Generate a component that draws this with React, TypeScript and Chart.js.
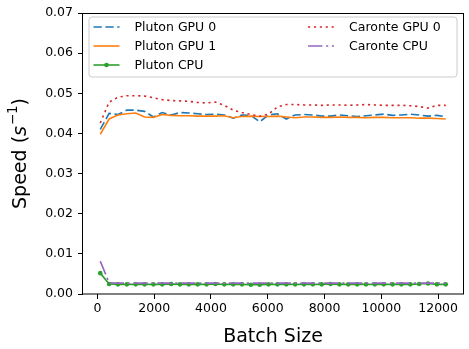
import React, { useEffect, useRef } from "react";
import { Chart, registerables } from "chart.js";

Chart.register(...registerables);

const batchSizes = [100, 412, 724, 1036, 1348, 1660, 1972, 2284, 2596, 2908, 3220, 3532, 3844, 4156, 4468, 4780, 5092, 5404, 5716, 6028, 6340, 6652, 6964, 7276, 7588, 7900, 8212, 8524, 8836, 9148, 9460, 9772, 10084, 10396, 10708, 11020, 11332, 11644, 11956, 12268];

const plutonGpu0 = [0.0410, 0.0450, 0.0447, 0.0458, 0.0458, 0.0455, 0.0441, 0.0452, 0.0446, 0.0452, 0.0451, 0.0449, 0.0447, 0.0448, 0.0446, 0.0438, 0.0446, 0.0445, 0.0429, 0.0446, 0.0449, 0.0436, 0.0446, 0.0447, 0.0446, 0.0443, 0.0443, 0.0446, 0.0444, 0.0442, 0.0444, 0.0446, 0.0448, 0.0445, 0.0446, 0.0448, 0.0446, 0.0443, 0.0445, 0.0442];

const plutonGpu1 = [0.0398, 0.0436, 0.0446, 0.0449, 0.0451, 0.0441, 0.0440, 0.0447, 0.0445, 0.0444, 0.0444, 0.0443, 0.0443, 0.0443, 0.0444, 0.0439, 0.0442, 0.0443, 0.0442, 0.0442, 0.0443, 0.0441, 0.0439, 0.0441, 0.0441, 0.0440, 0.0440, 0.0441, 0.0440, 0.0440, 0.0439, 0.0440, 0.0440, 0.0439, 0.0439, 0.0439, 0.0438, 0.0438, 0.0437, 0.0436];

const plutonCpu = [0.0052, 0.0025, 0.0024, 0.0024, 0.0024, 0.0024, 0.0024, 0.0024, 0.0025, 0.0024, 0.0024, 0.0024, 0.0024, 0.0025, 0.0024, 0.0024, 0.0024, 0.0023, 0.0023, 0.0024, 0.0024, 0.0024, 0.0024, 0.0024, 0.0024, 0.0024, 0.0025, 0.0024, 0.0024, 0.0024, 0.0024, 0.0024, 0.0024, 0.0024, 0.0024, 0.0024, 0.0025, 0.0026, 0.0024, 0.0024];

const caronteGpu0 = [0.0426, 0.0478, 0.0490, 0.0494, 0.0494, 0.0493, 0.0489, 0.0484, 0.0482, 0.0481, 0.0480, 0.0477, 0.0476, 0.0478, 0.0470, 0.0458, 0.0452, 0.0447, 0.0443, 0.0448, 0.0466, 0.0472, 0.0472, 0.0471, 0.0471, 0.0470, 0.0471, 0.0471, 0.0470, 0.0471, 0.0472, 0.0471, 0.0470, 0.0470, 0.0470, 0.0469, 0.0467, 0.0463, 0.0470, 0.0470];

const caronteCpu = [0.0082, 0.0028, 0.0027, 0.0027, 0.0027, 0.0027, 0.0027, 0.0027, 0.0027, 0.0027, 0.0027, 0.0027, 0.0027, 0.0027, 0.0027, 0.0027, 0.0027, 0.0027, 0.0027, 0.0027, 0.0027, 0.0027, 0.0027, 0.0027, 0.0027, 0.0027, 0.0027, 0.0027, 0.0027, 0.0027, 0.0027, 0.0027, 0.0027, 0.0027, 0.0027, 0.0027, 0.0027, 0.0027, 0.0027, 0.0027];

const seriesLabels = ["Pluton GPU 0", "Pluton GPU 1", "Pluton CPU", "Caronte GPU 0", "Caronte CPU"];
const xTickValues = [0, 2000, 4000, 6000, 8000, 10000, 12000];
const yTickValues = [0, 0.01, 0.02, 0.03, 0.04, 0.05, 0.06, 0.07];
const xTitle = "Batch Size";
const yTitleParts = ["Speed (", "s", "−1", ")"];

const FONT = "'DejaVu Sans', 'Liberation Sans', sans-serif";

export default function App() {
  const ref = useRef<HTMLCanvasElement>(null);

  useEffect(() => {
    document.body.style.margin = "0";
    const canvas = ref.current;
    if (!canvas) return;

    const styles = [
      { data: plutonGpu0, color: "#1f77b4", dash: [8.3, 3.6], marker: false },
      { data: plutonGpu1, color: "#ff7f0e", dash: [], marker: false },
      { data: plutonCpu, color: "#2ca02c", dash: [], marker: true },
      { data: caronteGpu0, color: "#d62728", dash: [2.2, 3.7], marker: false },
      { data: caronteCpu, color: "#9467bd", dash: [14.4, 3.6, 2.25, 3.6], marker: false },
    ];

    const datasets = styles.map((s, i) => ({
      label: seriesLabels[i],
      data: batchSizes.map((x, j) => ({ x, y: s.data[j] })),
      borderColor: s.color,
      backgroundColor: s.color,
      borderWidth: 1.6,
      borderDash: s.dash,
      pointRadius: s.marker ? 2.3 : 0,
      pointBorderWidth: 0,
      pointHoverRadius: 0,
      fill: false,
      tension: 0,
      order: styles.length - i,
    }));

    const framePlugin = {
      id: "frameLegend",
      afterDraw(chart: any) {
        const { ctx, chartArea } = chart;
        const { left, right, top, bottom } = chartArea;
        ctx.save();
        ctx.strokeStyle = "#000";
        ctx.lineWidth = 1;
        ctx.setLineDash([]);
        ctx.strokeRect(Math.round(left) - 0.5, Math.round(top) + 0.5, Math.round(right - left) + 1, Math.round(bottom - top) - 0.5);

        // y axis title with italic s and superscript
        ctx.save();
        ctx.translate(21, (top + bottom) / 2);
        ctx.rotate(-Math.PI / 2);
        ctx.fillStyle = "#000";
        ctx.textBaseline = "middle";
        ctx.textAlign = "left";
        const mainFont = `19px ${FONT}`;
        const italFont = `oblique 19px ${FONT}`;
        const supFont = `13.3px ${FONT}`;
        ctx.font = mainFont;
        const w0 = ctx.measureText(yTitleParts[0]).width;
        const w3 = ctx.measureText(yTitleParts[3]).width;
        ctx.font = italFont;
        const w1 = ctx.measureText(yTitleParts[1]).width;
        ctx.font = supFont;
        const w2 = ctx.measureText(yTitleParts[2]).width;
        const total = w0 + w1 + w2 + w3 + 1;
        let cx = -total / 2;
        ctx.font = mainFont;
        ctx.fillText(yTitleParts[0], cx, 0);
        cx += w0;
        ctx.font = italFont;
        ctx.fillText(yTitleParts[1], cx, 0);
        cx += w1 + 1;
        ctx.font = supFont;
        ctx.fillText(yTitleParts[2], cx, -7);
        cx += w2;
        ctx.font = mainFont;
        ctx.fillText(yTitleParts[3], cx, 0);
        ctx.restore();

        // legend box
        const bx = left + 6, by = top + 4, bw = 368, bh = 60, r = 3;
        ctx.beginPath();
        ctx.moveTo(bx + r, by);
        ctx.lineTo(bx + bw - r, by);
        ctx.quadraticCurveTo(bx + bw, by, bx + bw, by + r);
        ctx.lineTo(bx + bw, by + bh - r);
        ctx.quadraticCurveTo(bx + bw, by + bh, bx + bw - r, by + bh);
        ctx.lineTo(bx + r, by + bh);
        ctx.quadraticCurveTo(bx, by + bh, bx, by + bh - r);
        ctx.lineTo(bx, by + r);
        ctx.quadraticCurveTo(bx, by, bx + r, by);
        ctx.closePath();
        ctx.fillStyle = "rgba(255,255,255,0.8)";
        ctx.fill();
        ctx.strokeStyle = "#cccccc";
        ctx.lineWidth = 1;
        ctx.stroke();

        const cols = [bx + 4.5, bx + 219];
        const rows = [by + 10, by + 29, by + 48];
        const positions = [
          [0, 0], [0, 1], [0, 2], [1, 0], [1, 1],
        ];
        ctx.font = `12.5px ${FONT}`;
        ctx.textBaseline = "middle";
        ctx.textAlign = "left";
        styles.forEach((s, i) => {
          const [c, rr] = positions[i];
          const x0 = cols[c];
          const y0 = rows[rr];
          ctx.strokeStyle = s.color;
          ctx.lineWidth = 1.6;
          ctx.setLineDash(s.dash);
          ctx.beginPath();
          ctx.moveTo(x0, y0);
          ctx.lineTo(x0 + 26, y0);
          ctx.stroke();
          ctx.setLineDash([]);
          if (s.marker) {
            ctx.fillStyle = s.color;
            ctx.beginPath();
            ctx.arc(x0 + 13, y0, 2.3, 0, Math.PI * 2);
            ctx.fill();
          }
          ctx.fillStyle = "#000";
          ctx.fillText(seriesLabels[i], x0 + 41, y0 + 1);
        });
        ctx.restore();
      },
    };

    const chart = new Chart(canvas, {
      type: "line",
      data: { datasets },
      options: {
        animation: false,
        responsive: false,
        devicePixelRatio: 1,
        layout: { padding: { top: 13, right: 6, left: 0, bottom: 0 } },
        plugins: { legend: { display: false }, tooltip: { enabled: false } },
        scales: {
          x: {
            type: "linear",
            min: -508,
            max: 12876,
            afterBuildTicks: (scale: any) => {
              scale.ticks = xTickValues.map((v) => ({ value: v }));
            },
            afterFit: (scale: any) => {
              scale.height = 55;
            },
            ticks: {
              color: "#000",
              font: { family: FONT, size: 12.5 },
              padding: 2,
              maxRotation: 0,
              autoSkip: false,
              callback: (v: any) => String(v),
            },
            grid: { display: true, drawOnChartArea: false, drawTicks: true, tickLength: 5, color: "#000" },
            border: { display: false },
            title: {
              display: true,
              text: xTitle,
              color: "#000",
              font: { family: FONT, size: 19 },
              padding: { top: 0, bottom: 1 },
            },
          },
          y: {
            type: "linear",
            min: 0,
            max: 0.07,
            afterBuildTicks: (scale: any) => {
              scale.ticks = yTickValues.map((v) => ({ value: v }));
            },
            afterFit: (scale: any) => {
              scale.width = 83;
            },
            ticks: {
              color: "#000",
              font: { family: FONT, size: 12.5 },
              padding: 5,
              autoSkip: false,
              callback: (v: any) => Number(v).toFixed(2),
            },
            grid: { display: true, drawOnChartArea: false, drawTicks: true, tickLength: 5, color: "#000" },
            border: { display: false },
            title: { display: false },
          },
        },
      },
      plugins: [framePlugin],
    } as any);

    return () => chart.destroy();
  }, []);

  return (
    <div style={{ width: 469, height: 349, position: "relative" }}>
      <canvas ref={ref} width={469} height={349} />
    </div>
  );
}
